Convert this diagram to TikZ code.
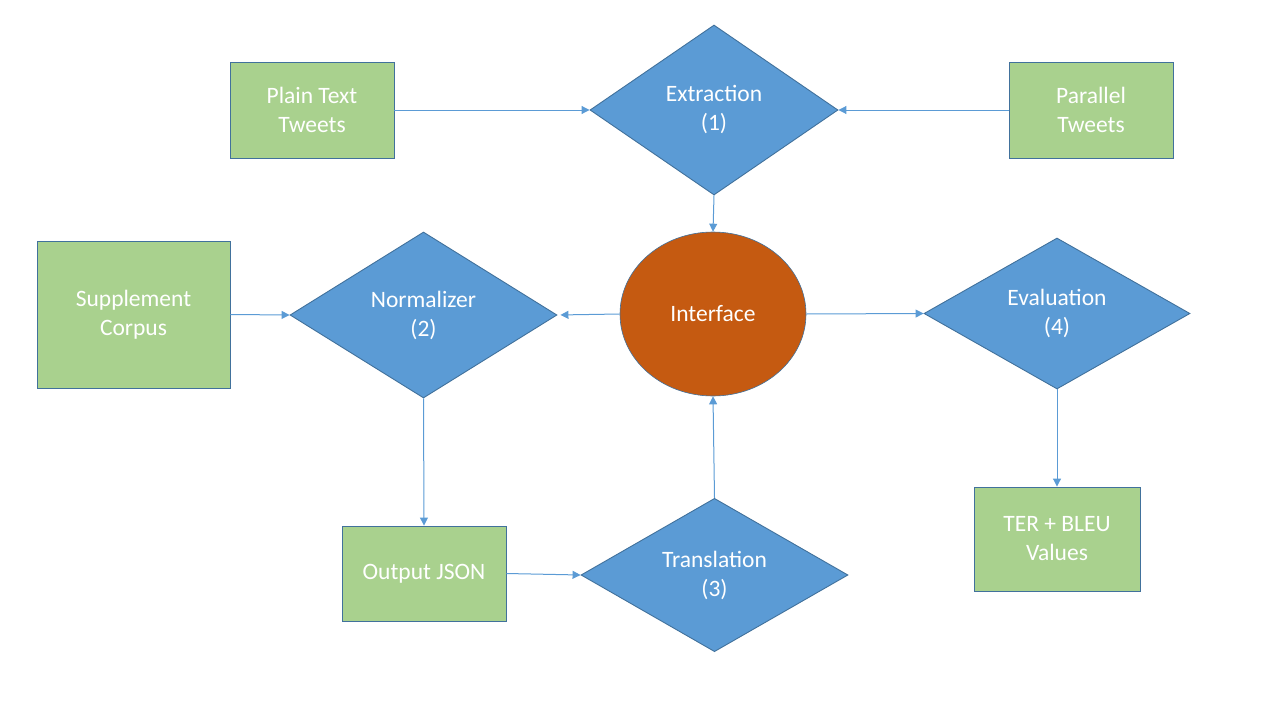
\documentclass[tikz,border=0pt]{standalone}
\usepackage{fontspec}
\setmainfont{Carlito}
\usetikzlibrary{shapes.geometric,arrows.meta}
\definecolor{boxgreen}{HTML}{A9D18E}
\definecolor{edgeblue}{HTML}{41719C}
\definecolor{dblue}{HTML}{5B9BD5}
\definecolor{orng}{HTML}{C55A11}
\tikzset{
  txt/.style={text=white, align=center, font=\fontsize{23.5}{29}\selectfont, inner sep=0pt,
    execute at begin node={\vspace*{4pt}}},
  gbox/.style={txt, rectangle, fill=boxgreen, draw=edgeblue, line width=0.9pt},
  dmd/.style={txt, diamond, fill=dblue, draw=edgeblue, line width=0.9pt},
  oval/.style={txt, ellipse, fill=orng, draw=edgeblue, line width=0.6pt},
  conn/.style={draw=dblue, line width=1pt, -{Triangle[length=8pt,width=8pt]}}
}
\begin{document}
\begin{tikzpicture}[x=1pt,y=-1pt]
\useasboundingbox (0,0) rectangle (1280,720);
\node[gbox, minimum width=164pt, minimum height=96pt] (plain) at (312,110) {Plain Text\\Tweets};
\node[gbox, minimum width=164pt, minimum height=96pt] (par) at (1091,110) {Parallel\\Tweets};
\node[gbox, minimum width=193pt, minimum height=147pt] (supp) at (133.5,314.5) {Supplement\\Corpus};
\node[gbox, minimum width=164pt, minimum height=95pt] (oj) at (424,573.5) {Output JSON};
\node[gbox, minimum width=166pt, minimum height=104pt] (ter) at (1057,539) {TER + BLEU\\Values};
\node[dmd, minimum width=248pt, minimum height=170pt] (ext) at (714,110) {Extraction\\(1)};
\node[dmd, minimum width=267pt, minimum height=166pt] (norm) at (423.5,315) {Normalizer\\(2)};
\node[dmd, minimum width=266pt, minimum height=151pt] (eval) at (1057,313.5) {Evaluation\\(4)};
\node[dmd, minimum width=267pt, minimum height=152pt] (tr) at (714.5,575) {Translation\\(3)};
\node[oval, minimum width=186pt, minimum height=164pt] (intf) at (713,314) {Interface};
\draw[conn] (plain.east) -- (ext.west);
\draw[conn] (par.west) -- (ext.east);
\draw[conn] (ext.south) -- (intf.north);
\draw[conn] (supp.east) -- (norm.west);
\draw[conn, shorten >=3pt] (intf.west) -- (norm.east);
\draw[conn] (intf.east) -- (eval.west);
\draw[conn] (eval.south) -- (ter.north);
\draw[conn] (norm.south) -- (oj.north);
\draw[conn] (oj.east) -- (tr.west);
\draw[conn] (tr.north) -- (intf.south);
\end{tikzpicture}
\end{document}
